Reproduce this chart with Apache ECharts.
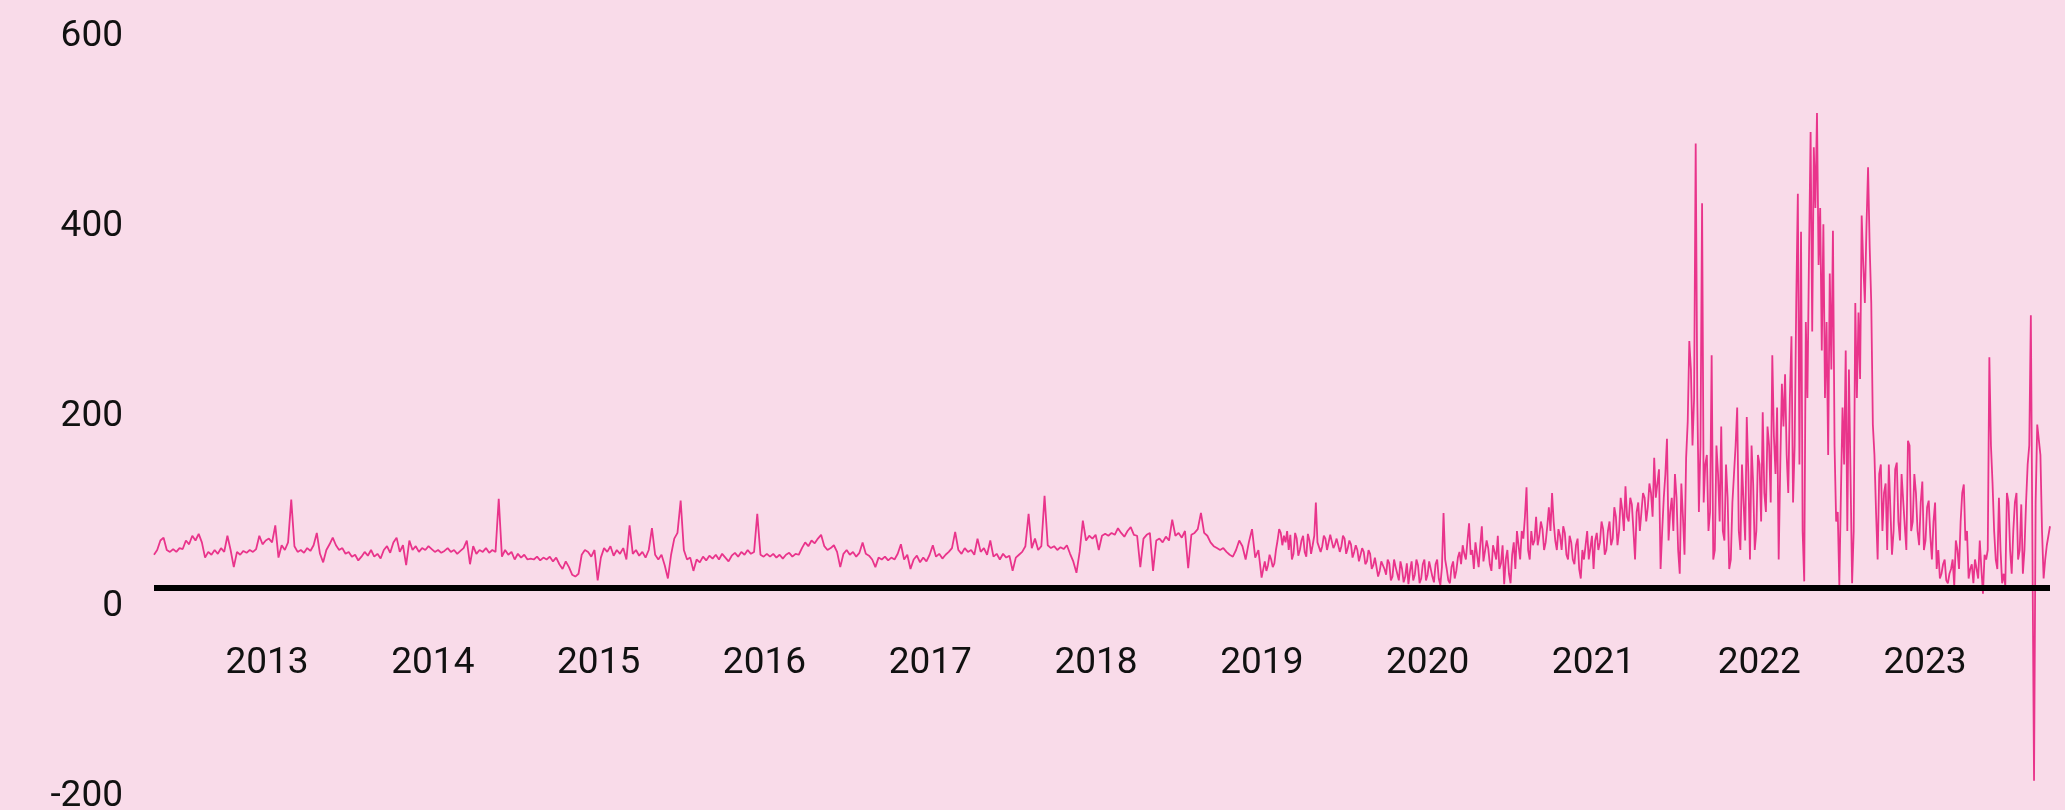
<!DOCTYPE html>
<html>
<head>
<meta charset="utf-8">
<script src="https://cdn.jsdelivr.net/npm/echarts@6/dist/echarts.min.js"></script>
<style>
  html, body { margin: 0; padding: 0; background: #f9dbe9; }
  #chart { width: 2065px; height: 810px; }
</style>
</head>
<body>
<div id="chart"></div>
<script>
// Weekly price samples, grouped by calendar year
const START_YEAR = 2012.318;      // first sample (late April 2012), decimal years
const STEP_YEARS = 0.019252;      // one week between samples

const w2012 = [35,40,50,53,40,38,41,38,42,41,50,46,55,50,57,48,32,38,35,40,36,42,38,55,40,22,38,35,39,37,40,38,41,55,46,50];
const w2013 = [52,48,66,32,45,40,48,93,44,38,40,37,42,39,45,58,36,27,40,46,53,45,40,42,36,38,33,35,29,33,38,34,40,33,36,31,40,44,37,48,53,38,45,24,50,40,44,38,42,40,44,41];
const w2014 = [38,40,37,39,42,38,40,36,39,42,50,25,44,36,40,38,42,37,40,38,94,33,40,35,38,30,36,32,35,30,31,30,33,29,32,30,33,28,32,25,20,28,22,14,12,15,35,40,38,33,40,8];
const w2015 = [32,42,38,44,34,40,36,42,30,66,36,40,34,38,32,40,63,35,30,35,24,10,35,52,58,92,40,30,32,18,30,27,33,29,34,31,35,30,36,32,28,34,37,33,38,35,40,36,38,78,35,33];
const w2016 = [36,33,36,32,35,31,35,37,33,36,35,42,48,44,50,47,52,56,44,40,42,45,38,22,36,40,35,38,33,37,48,36,34,30,22,32,30,33,29,32,30,36,46,30,35,20,30,34,27,32,28,35];
const w2017 = [45,33,36,31,35,38,42,59,40,36,42,38,40,35,52,38,42,35,50,33,36,30,36,32,34,18,32,35,38,44,78,42,52,40,44,97,45,42,44,40,43,41,45,36,28,16,38,71,50,55,52,56];
const w2018 = [40,55,57,55,58,56,63,58,54,60,64,56,55,22,52,56,58,18,50,52,48,54,50,72,55,58,53,60,21,56,58,62,79,58,55,48,44,42,40,42,38,35,33,40,50,44,30,48,62,32,40,11];
const w2019 = [28,24,30,26,50,58,55,60,56,36,52,40,55,33,50,45,90,50,44,52,48,54,46,50,44,52,42,46,38,40,30,38,28,36,24,34,18,30,14,26,12,22,8,20,12,4,28,14,24,10,30,14];
const w2020 = [26,6,30,3,79,20,5,28,18,38,45,30,68,40,48,22,65,30,42,18,38,55,26,4,40,5,48,60,30,52,106,30,45,75,55,62,48,85,100,50,62,40,58,30,48,25,52,10,30,60,42,20];
const w2021 = [58,48,62,40,70,52,75,60,82,107,70,88,30,90,80,95,85,100,137,110,20,95,157,80,60,95,15,75,137,260,150,468,80,405,130,60,245,40,120,170,50,95,30,120,190,40,90,180,30,110,60];
const w2022 = [130,185,80,150,245,120,30,215,225,100,265,150,415,375,7,200,480,464,500,400,383,280,331,376,70,3,190,250,230,5,300,290,392,300,443,300,140,30,130,100,40,130,60,132,50,120,40,150,70,100,45,112];
const w2023 = [50,92,30,90,40,15,30,5,20,2,40,70,109,60,20,5,28,50,-6,30,243,110,30,95,5,2,90,15,90,30,88,40,130,287,-203,172,140,10,45,65];

// Mid-week samples for the more volatile years (each sits halfway to the next weekly sample)
const mid2019 = [18,35,22,40,62,45,48,40,30,58,34,50,38,57,36,55,48,38,55,40,56,42,52,38,55,36,50,32,45,28,
                 42,25,40,20,32,12,28,20,30,8,30,15,28,6,26,18,8,30,5,25,8,28];
const mid2020 = [12,25,10,22,30,8,22,10,32,25,36,50,35,20,35,45,28,50,25,45,30,20,45,30,15,35,20,45,60,75,
                 40,60,50,45,70,40,65,60,70,40,55,65,35,55,30,45,20,40,45,30,55,50];
const mid2021 = [40,70,35,60,45,85,45,95,60,75,95,60,80,60,100,70,110,75,95,125,60,120,50,95,
                 120,40,110,35,175,230,200,200,150,90,140,80,30,150,70,60,130,20,90,150,60,130,50,120,150,40,140];
const mid2022 = [70,100,170,90,160,190,130,170,140,200,90,300,130,60,280,350,270,400,340,250,200,140,230,150,80,100,
                 130,60,120,60,200,220,340,380,360,172,80,120,60,110,130,35,125,70,120,65,155,60,120,60,90,40];
const mid2023 = [85,55,70,20,10,25,8,15,30,50,20,100,50,10,25,30,10,20,35,40,150,60,20,40,15,100,40,60,100,40,15,90,150,40,90,170,60,30,55];

// Axis ticks
const yTicks = [-200, 0, 200, 400, 600];
const yearTicks = [2013, 2014, 2015, 2016, 2017, 2018, 2019, 2020, 2021, 2022, 2023];
const ZERO = 0;

const weekly = [].concat(w2012, w2013, w2014, w2015, w2016, w2017, w2018, w2019, w2020, w2021, w2022, w2023);
const midweek = [].concat(mid2019, mid2020, mid2021, mid2022, mid2023);
const MID_FROM = weekly.length - 1 - midweek.length;   // first week that has a mid-week sample

const seriesData = [];
weekly.forEach((v, i) => {
  const t = START_YEAR + i * STEP_YEARS;
  seriesData.push([t, v]);
  if (i >= MID_FROM && i < weekly.length - 1) {
    seriesData.push([t + STEP_YEARS / 2, midweek[i - MID_FROM]]);
  }
});
const X_MAX = START_YEAR + (weekly.length - 1) * STEP_YEARS;

const FONT = 'Roboto, "Noto Sans", sans-serif';

const chart = echarts.init(document.getElementById('chart'), null, { renderer: 'canvas' });
chart.setOption({
  backgroundColor: '#f9dbe9',
  animation: false,
  grid: { left: 154, right: 15, top: 18, bottom: 32, containLabel: false, outerBoundsMode: 'none' },
  xAxis: {
    type: 'value',
    min: START_YEAR,
    max: X_MAX,
    axisLine: { show: false },
    axisTick: { show: false },
    splitLine: { show: false },
    axisLabel: {
      customValues: yearTicks,
      formatter: v => String(Math.round(v)),
      color: '#111111',
      fontFamily: FONT,
      fontSize: 37,
      margin: -133
    }
  },
  yAxis: {
    type: 'value',
    min: -200,
    max: 600,
    interval: 200,
    axisLine: { show: false },
    axisTick: { show: false },
    splitLine: { show: false },
    axisLabel: {
      customValues: yTicks,
      color: '#111111',
      fontFamily: FONT,
      fontSize: 37,
      margin: 31,
      verticalAlign: 'top'
    }
  },
  series: [
    {
      // heavy zero baseline, drawn beneath the price line
      type: 'line',
      data: [],
      z: 1,
      silent: true,
      markLine: {
        silent: true,
        symbol: ['none', 'none'],
        label: { show: false },
        lineStyle: { color: '#000000', width: 6, type: 'solid' },
        emphasis: { disabled: true },
        data: [{ yAxis: ZERO }]
      }
    },
    {
      type: 'line',
      data: seriesData,
      showSymbol: false,
      clip: false,
      sampling: null,
      lineStyle: { color: '#e9348b', width: 1.8 },
      z: 3
    }
  ]
});
</script>
</body>
</html>
